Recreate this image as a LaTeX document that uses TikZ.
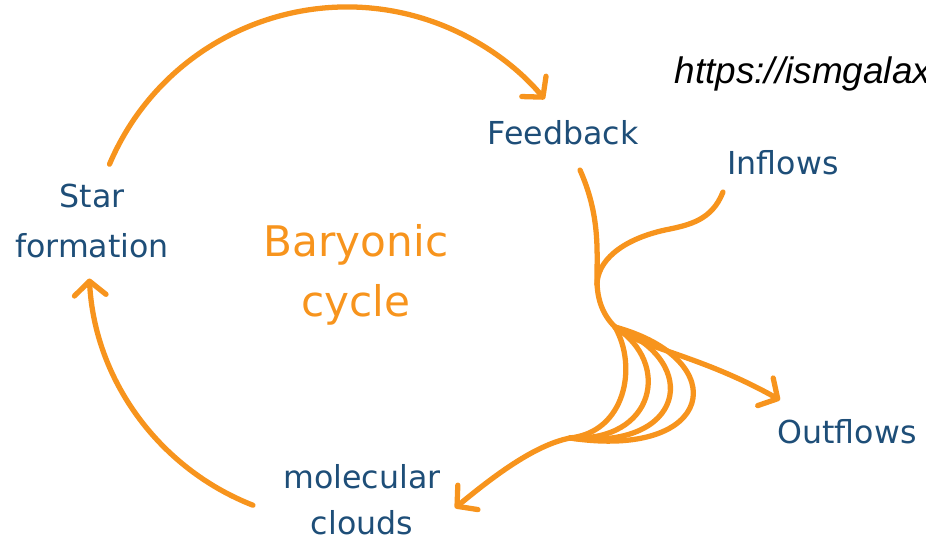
\documentclass[tikz,border=0pt]{standalone}
\usepackage{fontspec}
\setmainfont{DejaVu Sans}
\newfontfamily\urlfont{Liberation Sans}
\usetikzlibrary{arrows.meta,calc}
\definecolor{cycleorange}{RGB}{247,148,29}
\definecolor{cycleblue}{RGB}{30,78,120}
\tikzset{
	flow/.style={cycleorange, line width=1.5pt, line cap=round},
	flowhead/.style={-{Straight Barb[round,length=4pt,width=9pt]}},
	stage/.style={cycleblue, font=\fontsize{9}{14}\selectfont, align=center, inner sep=0pt},
}
\begin{document}
\begin{tikzpicture}
			\useasboundingbox (0,0) rectangle (9.26,5.42);
			\clip (0,0) rectangle (9.26,5.42);
			
			\coordinate (C) at (3.47, 2.77); 
			\coordinate (fb) at (5.80, 3.72); 
			\coordinate (P) at (5.97, 2.62);
			\coordinate (J) at (6.15, 2.15);
			\coordinate (in) at (7.23, 3.50);
			\coordinate (Q) at (6.65, 3.12);
			\coordinate (out) at (7.80, 1.42);
			\coordinate (M) at (5.70, 1.04);
			\coordinate (mc) at (4.55, 0.34);
			
			% the cycle itself
			\draw[flow, flowhead] (C) ++(157:2.58) arc[start angle=157, end angle=40, radius=2.58];
			\draw[flow, flowhead] (C) ++(248.6:2.58) arc[start angle=248.6, end angle=183, radius=2.58];
			
			% feedback, inflows, outflows
			\draw[flow] (fb) .. controls (6.00, 3.27) and (5.97, 2.92) .. (P) .. controls (5.97, 2.42) and (6.03, 2.27) .. (J);
			\draw[flow] (in) .. controls (7.12, 3.22) and (6.90, 3.17) .. (Q) .. controls (6.20, 3.02) and (5.97, 2.80) .. (5.97, 2.57);
			\draw[flow, flowhead] (J) .. controls (6.40, 1.94) and (7.00, 1.87) .. (out);
			
			\draw[flow] (J) .. controls (6.38, 1.75) and (6.25, 1.10) .. (M);
			\draw[flow] (J) .. controls (6.72, 1.79) and (6.55, 1.00) .. (M);
			\draw[flow] (J) .. controls (7.03, 1.80) and (6.85, 0.91) .. (M);
			\draw[flow] (J) .. controls (7.35, 1.82) and (7.15, 0.82) .. (M);
			\draw[flow, flowhead] (M) .. controls (5.35, 0.97) and (4.95, 0.67) .. (mc);
			
			\node[stage] (star) at (0.92, 3.21) {Star\\formation};
			\node[stage] (feedback) at (5.63, 4.09) {Feedback};
			\node[stage] (inflows) at (7.83, 3.79) {Inflows};
			\node[stage] (outflows) at (8.47, 1.10) {Outflows};
			\node[stage, font=\fontsize{9}{13}\selectfont] (clouds) at (3.62, 0.42) {molecular\\clouds};
			\node[stage, cycleorange, font=\fontsize{12}{17}\selectfont] (cycle) at (3.56, 2.67) {Baryonic\\cycle};
			
			\node[anchor=base west, inner sep=0pt, font=\urlfont\itshape\fontsize{10.5}{12}\selectfont] (url) at (6.74, 4.59) {https://ismgalax};
		\end{tikzpicture}
\end{document}
